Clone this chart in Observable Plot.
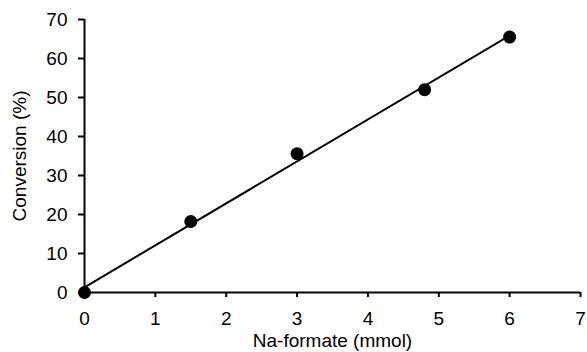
<!DOCTYPE html>
<html>
<head>
<meta charset="utf-8">
<script src="https://cdn.jsdelivr.net/npm/d3@7"></script>
<script src="https://cdn.jsdelivr.net/npm/@observablehq/plot@0.6"></script>
<style>
  body { margin: 0; background: #fff; }
  #chart svg { display: block; }
  #chart svg text { font-size: 19px !important; font-family: 'Liberation Sans', Arial, sans-serif !important; fill: #000; }
</style>
</head>
<body>
<div id="chart"></div>
<script>
const naFormate = [0, 1.5, 3, 4.8, 6];
const conversion = [0, 18.2, 35.6, 52, 65.5];
const xTicks = [0, 1, 2, 3, 4, 5, 6, 7];
const yTicks = [0, 10, 20, 30, 40, 50, 60, 70];

const data = naFormate.map((x, i) => ({x, y: conversion[i]}));

const chart = Plot.plot({
  width: 587,
  height: 352,
  marginLeft: 84,
  marginRight: 7,
  marginTop: 19,
  marginBottom: 60,
  style: {fontFamily: "'Liberation Sans', Arial, sans-serif", fontSize: "19px", color: "#000", background: "#fff"},
  x: {domain: [0, 7]},
  y: {domain: [0, 70]},
  marks: [
    Plot.axisX({ticks: xTicks, tickFormat: d3.format("d"), tickSize: 5, tickPadding: 14, strokeWidth: 2, label: "Na-formate (mmol)", labelAnchor: "center", labelArrow: "none", labelOffset: 54, fill: "#000"}),
    Plot.axisY({ticks: yTicks, tickFormat: d3.format("d"), tickSize: 6, tickPadding: 11, strokeWidth: 2, label: "Conversion (%)", labelAnchor: "center", labelArrow: "none", labelOffset: 72, fill: "#000"}),
    Plot.ruleY([0], {x1: 0, x2: 7, stroke: "#000", strokeWidth: 2}),
    Plot.ruleX([0], {y1: 0, y2: 70, stroke: "#000", strokeWidth: 2}),
    Plot.linearRegressionY(data, {x: "x", y: "y", ci: 0, stroke: "#000", strokeWidth: 2}),
    Plot.dot(data, {x: "x", y: "y", r: 6.5, fill: "#000", stroke: "none"})
  ]
});
document.getElementById("chart").append(chart);
</script>
</body>
</html>
